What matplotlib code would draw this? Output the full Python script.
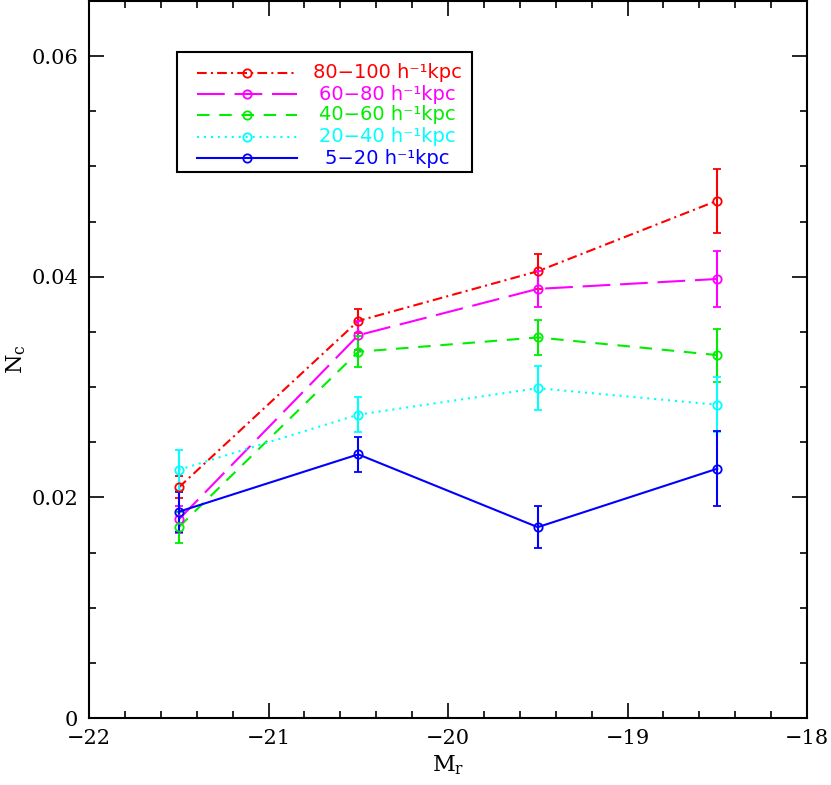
import matplotlib
matplotlib.use('Agg')
import matplotlib.pyplot as plt
from matplotlib.lines import Line2D
from matplotlib.ticker import MultipleLocator, FuncFormatter

# Data
mag = [-21.5, -20.5, -19.5, -18.5]
labels = ['80\u2212100 h\u207b\u00b9kpc', '60\u221280 h\u207b\u00b9kpc', '40\u221260 h\u207b\u00b9kpc',
          '20\u221240 h\u207b\u00b9kpc', '5\u221220 h\u207b\u00b9kpc']
nc_80_100 = [0.0209, 0.0360, 0.0405, 0.0469]
err_80_100 = [0.0010, 0.0011, 0.0016, 0.0029]
nc_60_80 = [0.0180, 0.0347, 0.0389, 0.0398]
err_60_80 = [0.0012, 0.0013, 0.0016, 0.0025]
nc_40_60 = [0.0173, 0.0332, 0.0345, 0.0329]
err_40_60 = [0.0014, 0.0014, 0.0016, 0.0024]
nc_20_40 = [0.0225, 0.0275, 0.0299, 0.0284]
err_20_40 = [0.0018, 0.0016, 0.0020, 0.0025]
nc_5_20 = [0.0187, 0.0239, 0.0173, 0.0226]
err_5_20 = [0.0018, 0.0016, 0.0019, 0.0034]

values = [nc_80_100, nc_60_80, nc_40_60, nc_20_40, nc_5_20]
errors = [err_80_100, err_60_80, err_40_60, err_20_40, err_5_20]
colors = ['#ff0000', '#ff00ff', '#00ee00', '#00ffff', '#0000ff']
styles = [(0, (7, 3, 1.5, 3)), (0, (20, 7)), (0, (9, 7)), (0, (1.5, 3.5)), '-']

plt.rcParams['lines.scale_dashes'] = False
plt.rcParams['mathtext.fontset'] = 'dejavuserif'

fig = plt.figure(figsize=(8.31, 7.85), dpi=100)
ax = fig.add_axes([89 / 831, 67 / 785, 718 / 831, 717 / 785])

for y, e, c, ls in zip(values, errors, colors, styles):
    ax.errorbar(mag, y, yerr=e, color=c, ls='none', capsize=3, elinewidth=1.5,
                capthick=1.5, marker='o', ms=6, mfc='none', mec=c, mew=1.3)
    ax.plot(mag, y, color=c, ls=ls, lw=1.5)

ax.set_xlim(-22, -18)
ax.set_ylim(0, 0.065)
ax.xaxis.set_major_locator(MultipleLocator(1))
ax.xaxis.set_minor_locator(MultipleLocator(0.2))
ax.yaxis.set_major_locator(MultipleLocator(0.02))
ax.yaxis.set_minor_locator(MultipleLocator(0.005))
ax.yaxis.set_major_formatter(FuncFormatter(lambda v, p: '0' if abs(v) < 1e-9 else '%.2f' % v))
ax.xaxis.set_major_formatter(FuncFormatter(lambda v, p: '%d' % v if v >= 0 else '\u2212%d' % -v))
ax.tick_params(which='both', direction='in', top=True, right=True, width=1.2)
ax.tick_params(which='major', length=11, labelsize=15, pad=8)
ax.tick_params(which='minor', length=5)
for t in ax.get_xticklabels() + ax.get_yticklabels():
    t.set_family('DejaVu Serif')
for s in ax.spines.values():
    s.set_linewidth(1.5)

ax.set_xlabel(r'$\mathregular{M_r}$', fontsize=16, family='DejaVu Serif', labelpad=4)
ax.set_ylabel(r'$\mathregular{N_c}$', fontsize=16, family='DejaVu Serif', labelpad=2)

# legend box drawn by hand so the texts can be centred like the original
tf = fig.transFigure
box = plt.Rectangle((177 / 831, 1 - 172 / 785), 295 / 831, 120 / 785, transform=tf,
                    fill=False, lw=1.5, ec='black')
fig.patches.append(box)
rows = [73, 94, 115, 137, 158]
for yy, lab, c, ls in zip(rows, labels, colors, styles):
    fy = 1 - yy / 785
    fig.lines.append(Line2D([197 / 831, 297 / 831], [fy, fy], transform=tf, color=c, ls=ls, lw=1.5))
    fig.lines.append(Line2D([247 / 831], [fy], transform=tf, color=c, marker='o', ms=6,
                            mfc='none', mec=c, mew=1.3, ls='none'))
    fig.text(387 / 831, fy, lab, color=c, fontsize=14, ha='center', va='center')

fig.savefig('out.png', dpi=100)
